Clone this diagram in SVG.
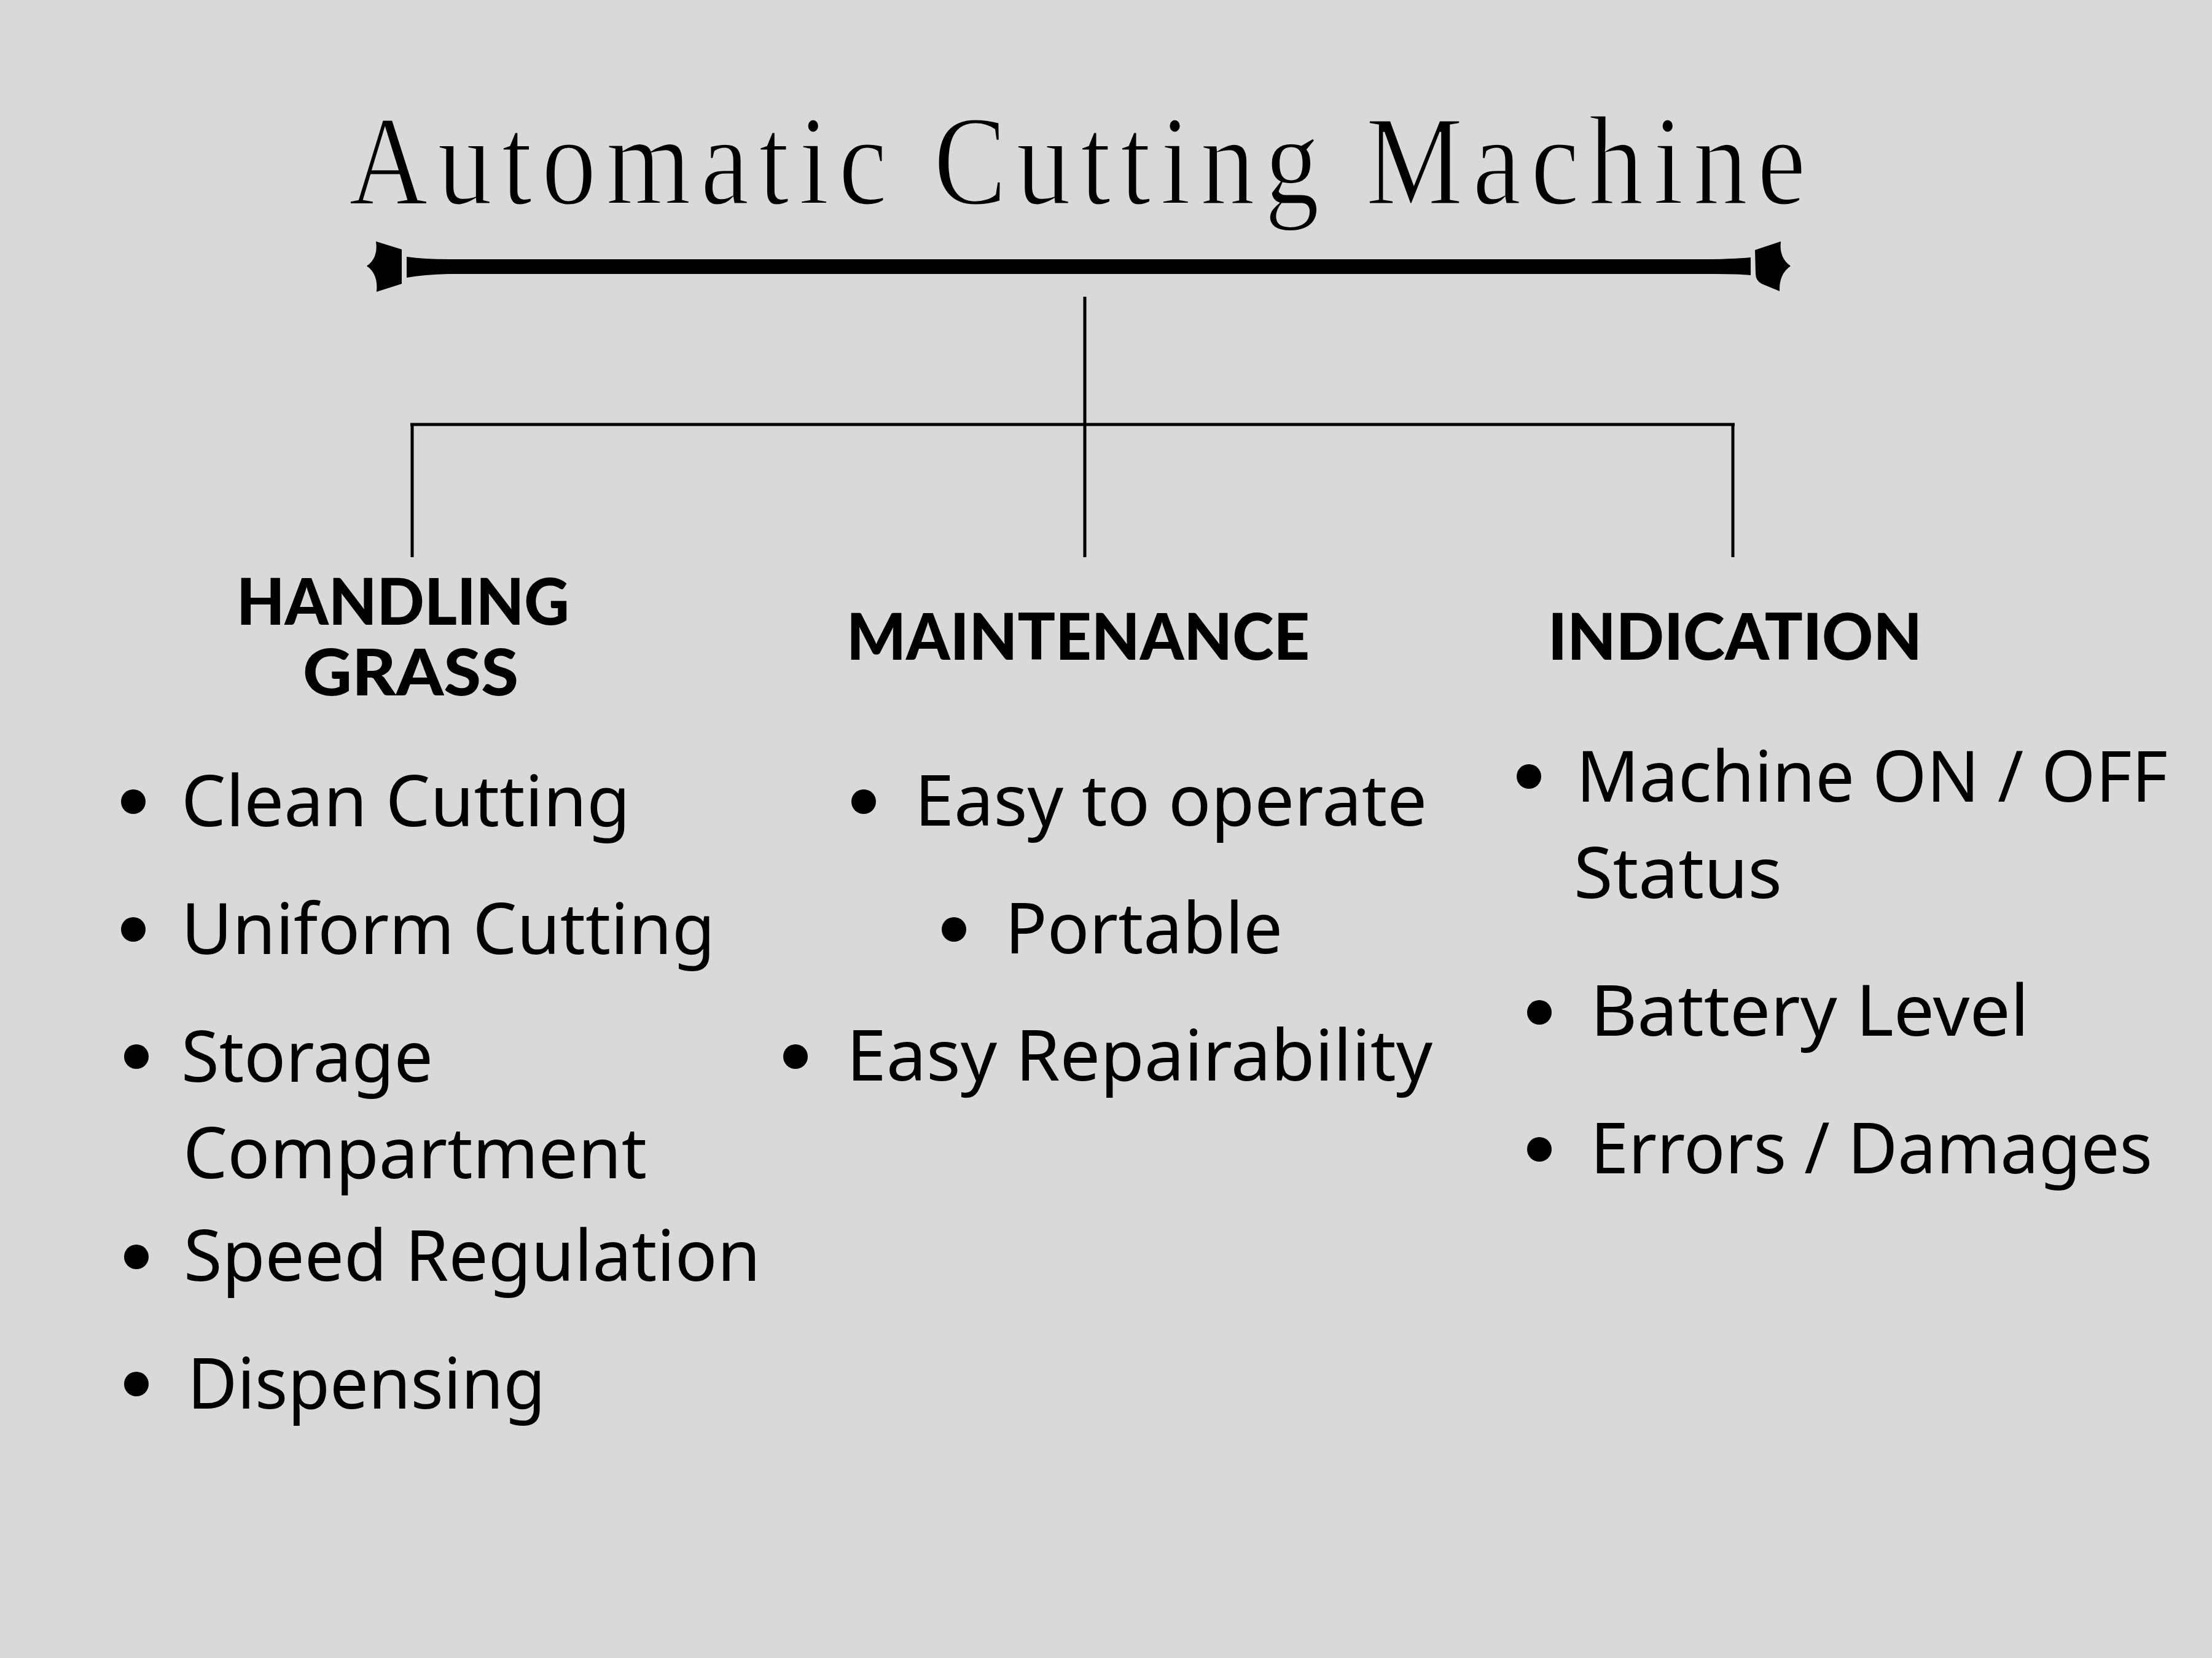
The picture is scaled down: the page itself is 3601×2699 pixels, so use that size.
<svg xmlns="http://www.w3.org/2000/svg" width="3601" height="2699" viewBox="0 0 3601 2699">
<style>
.title{font-family:"Liberation Serif","Times New Roman",serif;font-size:207px;fill:#000;stroke:#d9d9d9;stroke-width:3;}
.head{font-family:"Lato","Open Sans",sans-serif;font-weight:900;font-size:105px;fill:#000;}
.item{font-family:"Noto Sans","Open Sans",sans-serif;font-size:115px;fill:#000;}
.conn{stroke:#000;stroke-width:5;fill:none;}
.dot{fill:#000;}
</style>
<rect width="3601" height="2699" fill="#d9d9d9"/>
<g id="title">
<text class="title" transform="translate(568,332) scale(0.86,1)" x="0" y="0" textLength="2758" lengthAdjust="spacing">Automatic Cutting Machine</text>
<path d="M612,393 L654,406 L654,462 L613,475 Q616,446 597,433 Q616,420 612,393 Z" fill="#000"/>
<path d="M662,418 Q690,422 730,422 L2790,422 Q2830,421 2850,419 L2850,448 Q2830,446 2790,446 L730,446 Q690,447 662,452 Z" fill="#000"/>
<path d="M2857,407 L2899,393 Q2896,420 2915,433 Q2896,446 2897,474 L2868,462 Q2858,457 2858,445 Z" fill="#000"/>
</g>
<g id="connectors">
<line class="conn" x1="1766" y1="483" x2="1766" y2="907"/>
<line class="conn" x1="668" y1="691" x2="2824" y2="691" stroke-width="6"/>
<line class="conn" x1="671" y1="691" x2="671" y2="907"/>
<line class="conn" x1="2821" y1="691" x2="2821" y2="907"/>
</g>
<g id="node-handling-grass">
<text class="head" x="385" y="1017" textLength="542" lengthAdjust="spacingAndGlyphs">HANDLING</text>
<text class="head" x="493" y="1132" textLength="351" lengthAdjust="spacingAndGlyphs">GRASS</text>
<circle class="dot" cx="217" cy="1305" r="20"/>
<text class="item" x="295" y="1345" textLength="731" lengthAdjust="spacingAndGlyphs">Clean Cutting</text>
<circle class="dot" cx="217" cy="1513" r="20"/>
<text class="item" x="295" y="1553" textLength="869" lengthAdjust="spacingAndGlyphs">Uniform Cutting</text>
<circle class="dot" cx="222" cy="1720" r="20"/>
<text class="item" x="295" y="1761" textLength="410" lengthAdjust="spacingAndGlyphs">Storage</text>
<text class="item" x="298" y="1918" textLength="755" lengthAdjust="spacingAndGlyphs">Compartment</text>
<circle class="dot" cx="222" cy="2046" r="20"/>
<text class="item" x="299" y="2085" textLength="939" lengthAdjust="spacingAndGlyphs">Speed Regulation</text>
<circle class="dot" cx="222" cy="2253" r="20"/>
<text class="item" x="305" y="2293" textLength="583" lengthAdjust="spacingAndGlyphs">Dispensing</text>
</g>
<g id="node-maintenance">
<text class="head" x="1378" y="1074" textLength="754" lengthAdjust="spacingAndGlyphs">MAINTENANCE</text>
<circle class="dot" cx="1406" cy="1305" r="20"/>
<text class="item" x="1489" y="1344" textLength="834" lengthAdjust="spacingAndGlyphs">Easy to operate</text>
<circle class="dot" cx="1553" cy="1513" r="20"/>
<text class="item" x="1636" y="1552" textLength="452" lengthAdjust="spacingAndGlyphs">Portable</text>
<circle class="dot" cx="1295" cy="1720" r="20"/>
<text class="item" x="1378" y="1759" textLength="954" lengthAdjust="spacingAndGlyphs">Easy Repairability</text>
</g>
<g id="node-indication">
<text class="head" x="2520" y="1074" textLength="609" lengthAdjust="spacingAndGlyphs">INDICATION</text>
<circle class="dot" cx="2489" cy="1264" r="20"/>
<text class="item" x="2566" y="1305" textLength="963" lengthAdjust="spacingAndGlyphs">Machine ON / OFF</text>
<text class="item" x="2562" y="1462" textLength="339" lengthAdjust="spacingAndGlyphs">Status</text>
<circle class="dot" cx="2506" cy="1648" r="20"/>
<text class="item" x="2589" y="1686" textLength="714" lengthAdjust="spacingAndGlyphs">Battery Level</text>
<circle class="dot" cx="2506" cy="1871" r="20"/>
<text class="item" x="2589" y="1910" textLength="915" lengthAdjust="spacingAndGlyphs">Errors / Damages</text>
</g>
</svg>
